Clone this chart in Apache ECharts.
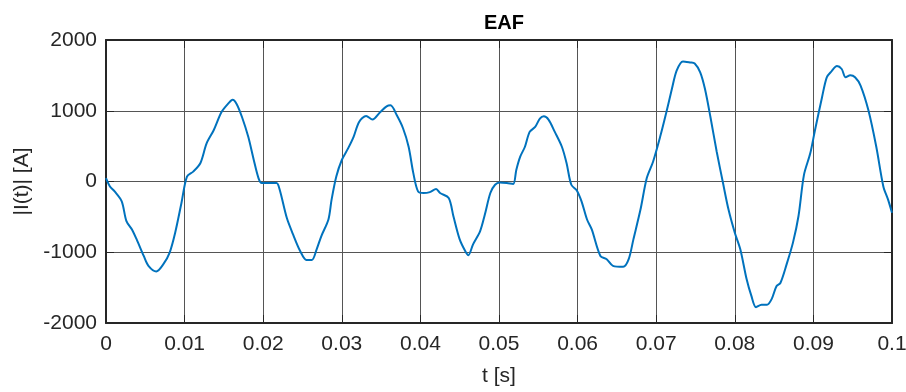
<!DOCTYPE html>
<html>
<head>
<meta charset="utf-8">
<script src="https://cdn.jsdelivr.net/npm/echarts@6/dist/echarts.min.js"></script>
<style>
  html, body { margin: 0; padding: 0; background: #fff; }
  #chart { width: 906px; height: 392px; }
</style>
</head>
<body>
<div id="chart"></div>
<script>
// Sampled current waveform of an electric arc furnace
const timeSeconds = [
  0.0000, 0.0005, 0.0011, 0.0020, 0.0026, 0.0033, 0.0039, 0.0048, 0.0054, 0.0064,
  0.0073, 0.0081, 0.0088, 0.0096, 0.0103, 0.0111, 0.0120, 0.0128, 0.0137, 0.0147,
  0.0156, 0.0161, 0.0166, 0.0173, 0.0181, 0.0188, 0.0194, 0.0198, 0.0209, 0.0217,
  0.0221, 0.0230, 0.0238, 0.0247, 0.0255, 0.0262, 0.0268, 0.0274, 0.0283, 0.0287,
  0.0293, 0.0300, 0.0308, 0.0315, 0.0322, 0.0331, 0.0339, 0.0349, 0.0357, 0.0362,
  0.0370, 0.0378, 0.0385, 0.0391, 0.0397, 0.0404, 0.0412, 0.0420, 0.0425, 0.0436,
  0.0442, 0.0450, 0.0457, 0.0461, 0.0467, 0.0476, 0.0482, 0.0489, 0.0495, 0.0501,
  0.0510, 0.0518, 0.0522, 0.0527, 0.0533, 0.0539, 0.0546, 0.0552, 0.0557, 0.0563,
  0.0571, 0.0580, 0.0586, 0.0592, 0.0599, 0.0605, 0.0612, 0.0618, 0.0629, 0.0637,
  0.0645, 0.0658, 0.0665, 0.0671, 0.0680, 0.0688, 0.0696, 0.0705, 0.0713, 0.0720,
  0.0726, 0.0734, 0.0743, 0.0749, 0.0756, 0.0762, 0.0769, 0.0777, 0.0785, 0.0792,
  0.0800, 0.0807, 0.0815, 0.0821, 0.0827, 0.0834, 0.0841, 0.0847, 0.0853, 0.0858,
  0.0866, 0.0874, 0.0881, 0.0888, 0.0896, 0.0902, 0.0911, 0.0917, 0.0923, 0.0930,
  0.0936, 0.0941, 0.0947, 0.0953, 0.0960, 0.0970, 0.0980, 0.0989, 0.0995, 0.1000
];
const currentAmps = [
    48,   -70,  -140,  -280,  -560,  -677,  -818, -1052, -1192, -1271,
 -1168, -1004,  -724,  -303,    70,   140,   258,   538,   725,   982,
  1108,  1156,  1100,   912,   631,   304,    48,   -22,   -22,   -22,
  -116,  -513,  -748,  -982, -1108, -1108,  -958,  -771,  -537,  -257,
    70,   304,   468,   631,   842,   926,   875,   982,  1062,  1076,
   935,   749,   491,   118,  -140,  -163,  -150,  -107,  -163,  -233,
  -491,  -818,  -982, -1042,  -888,  -701,  -467,  -163,   -46,   -14,
   -22,   -36,   164,   351,   491,   701,   771,   889,   921,   875,
   701,   491,   258,   -46,  -126,  -280,  -537,  -677, -1052, -1098,
 -1192, -1206, -1098,  -818,  -397,    48,   280,   631,   982,  1310,
  1567,  1697,  1683,  1669,  1543,  1310,   912,   421,   -22,  -397,
  -724,  -958, -1379, -1613, -1776, -1743, -1743, -1659, -1481, -1435,
 -1168,  -864,  -491,    94,   398,   725,  1192,  1473,  1557,  1632,
  1590,  1473,  1501,  1473,  1356,  1006,   491,   -70,  -257,  -443
];
const yTicks = [-2000, -1000, 0, 1000, 2000];

const chart = echarts.init(document.getElementById('chart'), null, { renderer: 'canvas' });

const textColor = '#262626';
const font = 'Liberation Sans, Arial, sans-serif';
const gridColor = '#555555';
const boxColor = '#262626';

const points = timeSeconds.map((t, i) => [t, currentAmps[i]]);

const fmtX = v => String(Number(v.toFixed(2)));
const fmtY = v => String(Math.round(v));

chart.setOption({
  animation: false,
  backgroundColor: '#ffffff',
  title: {
    text: 'EAF',
    left: 499, top: 8, textAlign: 'center',
    textStyle: { fontFamily: font, fontSize: 20, fontWeight: 'bold', color: '#000' }
  },
  grid: { left: 106, right: 14, top: 40, bottom: 69, containLabel: false, outerBoundsMode: 'none' },
  xAxis: [{
    type: 'value', min: 0, max: 0.1, interval: 0.01,
    name: 't [s]', nameLocation: 'middle', nameGap: 43,
    nameTextStyle: { fontFamily: font, fontSize: 21, color: textColor },
    axisLine: { show: true, onZero: false, lineStyle: { color: boxColor, width: 2 } },
    axisTick: { show: true, inside: true, length: 8, lineStyle: { color: boxColor, width: 1 } },
    axisLabel: { fontFamily: font, fontSize: 21, color: textColor, margin: 11, formatter: fmtX },
    splitLine: { show: true, lineStyle: { color: gridColor, width: 1 } }
  }, {
    type: 'value', min: 0, max: 0.1, interval: 0.01, position: 'top',
    axisLine: { show: true, onZero: false, lineStyle: { color: boxColor, width: 2 } },
    axisTick: { show: true, inside: true, length: 8, lineStyle: { color: boxColor, width: 1 } },
    axisLabel: { show: false }, splitLine: { show: false }
  }],
  yAxis: [{
    type: 'value', min: yTicks[0], max: yTicks[yTicks.length - 1], interval: 1000,
    name: '|I(t)| [A]', nameLocation: 'middle', nameGap: 69,
    nameTextStyle: { fontFamily: font, fontSize: 21, color: textColor },
    axisLine: { show: true, onZero: false, lineStyle: { color: boxColor, width: 2 } },
    axisTick: { show: true, inside: true, length: 8, lineStyle: { color: boxColor, width: 1 } },
    axisLabel: { fontFamily: font, fontSize: 21, color: textColor, margin: 9, formatter: fmtY },
    splitLine: { show: true, lineStyle: { color: gridColor, width: 1 } }
  }, {
    type: 'value', min: yTicks[0], max: yTicks[yTicks.length - 1], interval: 1000, position: 'right',
    axisLine: { show: true, onZero: false, lineStyle: { color: boxColor, width: 2 } },
    axisTick: { show: true, inside: true, length: 8, lineStyle: { color: boxColor, width: 1 } },
    axisLabel: { show: false }, splitLine: { show: false }
  }],
  series: [{
    type: 'line',
    data: points,
    showSymbol: false,
    smooth: 0.3,
    lineStyle: { color: '#0072BD', width: 2 },
    z: 5
  }]
});
</script>
</body>
</html>
